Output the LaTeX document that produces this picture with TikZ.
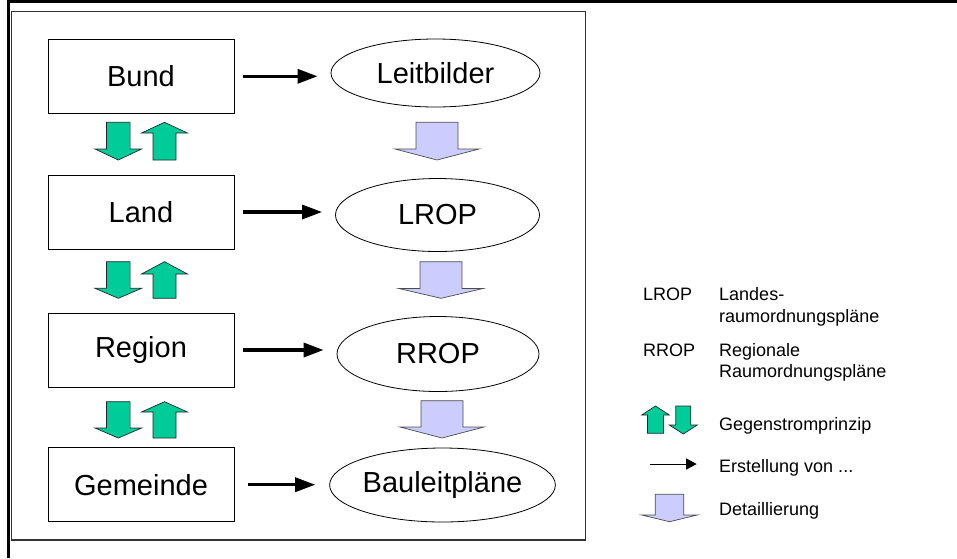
\documentclass[tikz,border=0pt]{standalone}
\usepackage{fontspec}
\setmainfont{Liberation Sans}
\usetikzlibrary{shapes.geometric,arrows.meta}

\definecolor{gsgreen}{RGB}{0,204,153}
\definecolor{detailfill}{RGB}{204,204,255}

% block arrow: [style]{centre x}{tail y}{head base y}{tip y}{shaft half width}{head half width}
\newcommand{\blockarr}[7][]{%
  \draw[#1] (#2-#6,#3) -- (#2+#6,#3) -- (#2+#6,#4) -- (#2+#7,#4)
    -- (#2,#5) -- (#2-#7,#4) -- (#2-#6,#4) -- cycle;}

\begin{document}
\begin{tikzpicture}[x=1pt,y=-1pt,
  levelbox/.style={draw=black, line width=0.9pt, minimum width=186pt,
    minimum height=74pt, inner sep=0pt, font=\fontsize{29}{32}\selectfont},
  planell/.style={draw=black, line width=0.8pt, ellipse, inner sep=0pt,
    font=\fontsize{29}{32}\selectfont},
  flow/.style={line width=3.3pt, -{Triangle[length=20pt,width=14pt]}},
  gegen/.style={fill=gsgreen, draw=black!85, line width=0.7pt},
  detail/.style={fill=detailfill, draw=black!70, line width=0.7pt},
  legtext/.style={anchor=base west, inner sep=0pt, font=\fontsize{18}{21}\selectfont}]

\useasboundingbox (0,0) rectangle (957,558);

% outer cell border and inner frame
\draw[line width=2.6pt] (8.3,558) -- (8.3,1.3) -- (957,1.3);
\draw[line width=1.1pt, black!80] (11.5,11.5) rectangle (585.5,540);

% levels of planning
\node[levelbox] (bund)     at (141,76.3)  {Bund};
\node[levelbox] (land)     at (141,212)   {Land};
\node[levelbox] (region)   at (141,350)   {Region};
\node[levelbox] (gemeinde) at (141,484.7) {Gemeinde};

% plans
\node[planell, minimum width=209pt, minimum height=68pt] (leit)    at (435.5,73)  {Leitbilder};
\node[planell, minimum width=204pt, minimum height=73pt] (lrop)    at (437.5,215) {LROP};
\node[planell, minimum width=202pt, minimum height=75pt] (rrop)    at (438,354)   {RROP};
\node[planell, minimum width=213pt, minimum height=74pt] (bauleit) at (442.5,485) {Bauleitpläne};

% Erstellung von ...
\draw[flow, shorten <=9pt, shorten >=13pt] (bund.east) -- (bund.east -| leit.west);
\draw[flow, shorten <=9pt, shorten >=13pt] (land.east) -- (land.east -| lrop.west);
\draw[flow, shorten <=9pt, shorten >=13pt] (region.east) -- (region.east -| rrop.west);
\draw[flow, shorten <=14pt, shorten >=14pt] (gemeinde.east) -- (gemeinde.east -| bauleit.west);

% Gegenstromprinzip between the levels
\blockarr[gegen]{118.3}{122.3}{149}{160}{11.8}{23.3}
\blockarr[gegen]{164.5}{160}{133}{122.3}{11.5}{23}
\blockarr[gegen]{118.3}{261.7}{288.3}{298.3}{11.8}{23.3}
\blockarr[gegen]{164.5}{298.3}{274}{261.7}{11.5}{23}
\blockarr[gegen]{118.3}{401.7}{428}{438}{11.8}{23.3}
\blockarr[gegen]{164.5}{438}{412}{401.7}{11.5}{23}

% Detaillierung between the plans
\blockarr[detail]{437}{122.3}{149}{160}{21}{42}
\blockarr[detail]{441}{261.7}{288.5}{298.3}{21}{42}
\blockarr[detail]{442}{400.7}{427}{438}{21}{42}

% legend
\node[legtext] (lropk) at (643,300)   {LROP};
\node[legtext] (lropt) at (719,300)   {Landes-};
\node[legtext] (lropu) at (719,322.7) {raumordnungspläne};
\node[legtext] (rropk) at (643,356)   {RROP};
\node[legtext] (rropt) at (719,356)   {Regionale};
\node[legtext] (rropu) at (719,377.3) {Raumordnungspläne};

\blockarr[gegen]{655.5}{433.3}{415}{406}{8}{13.8}
\blockarr[gegen]{683.3}{406}{425}{434}{7.5}{14}
\node[legtext] (gegenk) at (719,430.7) {Gegenstromprinzip};

\coordinate (erstA) at (650,464);
\coordinate (erstB) at (696.7,464);
\draw[line width=1pt, -{Triangle[length=10.5pt,width=11pt]}] (erstA) -- (erstB);
\node[legtext] (erstk) at (719,472) {Erstellung von ...};

\blockarr[detail]{669.5}{494.3}{515}{521.7}{14.3}{27.8}
\node[legtext] (detk) at (719,515) {Detaillierung};

\end{tikzpicture}
\end{document}
